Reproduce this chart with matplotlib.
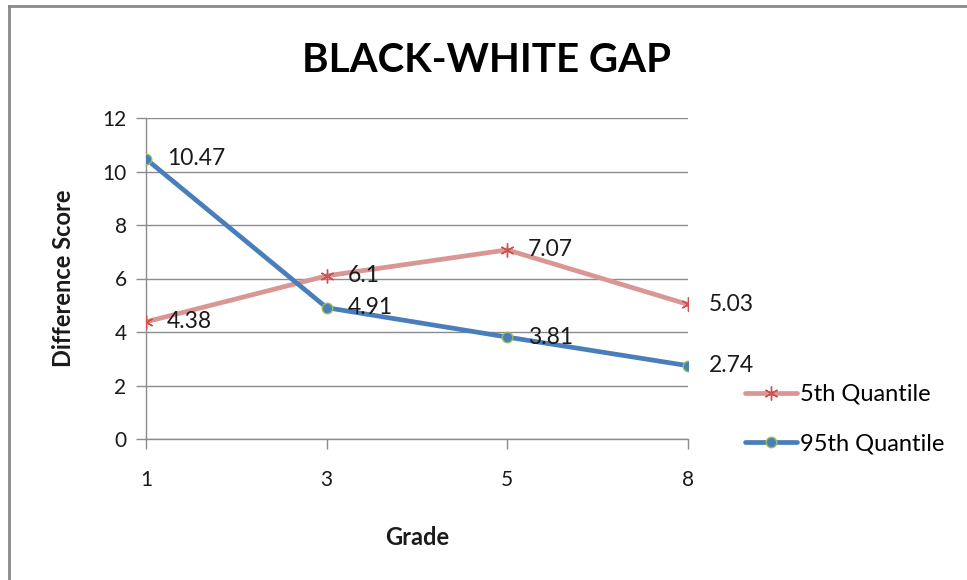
import matplotlib
matplotlib.use("Agg")
import matplotlib.pyplot as plt
from matplotlib.lines import Line2D

# Data
grades = ["1", "3", "5", "8"]
q5_values = [4.38, 6.1, 7.07, 5.03]
q95_values = [10.47, 4.91, 3.81, 2.74]
y_ticks = [0, 2, 4, 6, 8, 10, 12]

plt.rcParams['font.family'] = ['Lato', 'DejaVu Sans']

fig = plt.figure(figsize=(9.67, 5.8), dpi=100)
ax = fig.add_axes([146/967, 1-439/580, (688-146)/967, (439-118)/580])

x = list(range(len(grades)))
pink = "#D99694"
blue = "#4A7EBB"

l5, = ax.plot(x, q5_values, color=pink, lw=3.4, marker=(6, 2, 0), ms=10,
              mec="#D0504D", mew=1.0, label="5th Quantile", zorder=3,
              solid_capstyle="round")
l95, = ax.plot(x, q95_values, color=blue, lw=3.4, marker="o", ms=7.5,
               mfc=blue, mec="#9BBB59", mew=1.0, label="95th Quantile", zorder=4,
               solid_capstyle="round")

for xi, v in zip(x, q5_values):
    ax.annotate(f"{v:g}", (xi, v), xytext=(15, 0), textcoords="offset points",
                ha="left", va="center", fontsize=16.5, color="#1a1a1a", zorder=5)
for xi, v in zip(x, q95_values):
    ax.annotate(f"{v:g}", (xi, v), xytext=(15, 0), textcoords="offset points",
                ha="left", va="center", fontsize=16.5, color="#1a1a1a", zorder=5)

ax.set_xlim(0, len(grades) - 1)
ax.set_ylim(0, 12)
ax.set_xticks(x)
ax.set_xticklabels(grades)
ax.set_yticks(y_ticks)
ax.grid(axis="y", color="#8c8c8c", lw=1)
ax.set_axisbelow(True)

for s in ["top", "right"]:
    ax.spines[s].set_visible(False)
for s in ["left", "bottom"]:
    ax.spines[s].set_color("#8c8c8c")
    ax.spines[s].set_linewidth(1)

ax.tick_params(axis="both", colors="#8c8c8c", labelcolor="#1a1a1a",
               labelsize=15, length=7, width=1, direction="out")
ax.tick_params(axis="x", pad=15)
ax.tick_params(axis="y", pad=7)

ax.set_xlabel("Grade", fontsize=17, fontweight="bold", color="#1a1a1a", labelpad=26)
ax.set_ylabel("Difference Score", fontsize=17, fontweight="bold", color="#1a1a1a", labelpad=20)

fig.text(487/967, 1-60/580, "BLACK-WHITE GAP", ha="center", va="center",
         fontsize=29, fontweight="bold", color="#000000")

leg = fig.legend(handles=[l5, l95], loc="center left",
                 bbox_to_anchor=(733/967, 1-419/580), frameon=False,
                 fontsize=17, handlelength=2.2, handletextpad=0.15,
                 labelspacing=1.2, borderpad=0)

# chart-area border (top and left edges)
fig.add_artist(Line2D([9/967, 9/967], [0, 1-6/580], color="#8a8a8a", lw=2,
                      transform=fig.transFigure))
fig.add_artist(Line2D([9/967, 1], [1-6/580, 1-6/580], color="#8a8a8a", lw=2,
                      transform=fig.transFigure))

fig.savefig("out.png", dpi=100, facecolor="white")
